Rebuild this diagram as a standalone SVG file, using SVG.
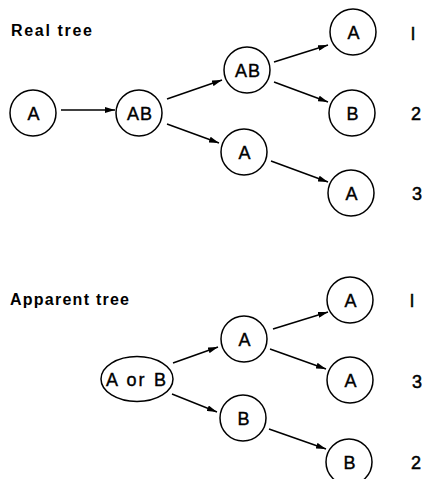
<svg xmlns="http://www.w3.org/2000/svg" width="422" height="479" viewBox="0 0 422 479">
<style>
.n{fill:#fff;stroke:#000;stroke-width:1.5}
.t{font-family:"Liberation Sans",Arial,sans-serif;font-size:18px;text-anchor:middle;fill:#000;stroke:#000;stroke-width:0.4;letter-spacing:1px}
.h{font-family:"Liberation Sans",Arial,sans-serif;font-size:16px;font-weight:bold;fill:#000}
.d{font-family:"Liberation Sans",Arial,sans-serif;font-size:18px;fill:#000;stroke:#000;stroke-width:0.5}
.c{stroke:#000;stroke-width:1.5;fill:none;marker-end:url(#ah)}
</style>
<defs>
<marker id="ah" viewBox="0 0 10 6" refX="10" refY="3" markerWidth="10" markerHeight="6" markerUnits="userSpaceOnUse" orient="auto">
<path d="M0,0 L10,3 L0,6 z" fill="#000"/>
</marker>
</defs>
<text class="h" x="11" y="36" textLength="81" lengthAdjust="spacing">Real tree</text>
<text class="h" x="10" y="305" textLength="119" lengthAdjust="spacing">Apparent tree</text>
<g id="connectors">
<line class="c" x1="61" y1="110" x2="115" y2="110"/>
<line class="c" x1="167" y1="99" x2="222" y2="80"/>
<line class="c" x1="167" y1="124" x2="219" y2="143"/>
<line class="c" x1="274" y1="62" x2="328" y2="45"/>
<line class="c" x1="274" y1="82" x2="328" y2="102"/>
<line class="c" x1="271" y1="161" x2="328" y2="182"/>
<line class="c" x1="173" y1="363" x2="218" y2="347"/>
<line class="c" x1="172" y1="394" x2="217" y2="412"/>
<line class="c" x1="273" y1="329" x2="328" y2="312"/>
<line class="c" x1="270" y1="349" x2="326" y2="369"/>
<line class="c" x1="269" y1="429" x2="326" y2="449"/>
</g>
<g id="r-root"><circle class="n" cx="33" cy="113" r="23"/><text class="t" x="34" y="119.5">A</text></g>
<g id="r-ab1"><circle class="n" cx="139" cy="113" r="23"/><text class="t" x="140" y="119.5">AB</text></g>
<g id="r-ab2"><circle class="n" cx="247" cy="70" r="23"/><text class="t" x="248" y="76.5">AB</text></g>
<g id="r-a2"><circle class="n" cx="244" cy="152" r="23"/><text class="t" x="245" y="158.5">A</text></g>
<g id="r-leaf1"><circle class="n" cx="353" cy="32" r="23"/><text class="t" x="354" y="38.5">A</text></g>
<g id="r-leaf2"><circle class="n" cx="352" cy="113" r="23"/><text class="t" x="353" y="119.5">B</text></g>
<g id="r-leaf3"><circle class="n" cx="351" cy="193" r="23"/><text class="t" x="352" y="199.5">A</text></g>
<text class="d" x="411" y="40">l</text>
<text class="d" x="411" y="120">2</text>
<text class="d" x="412" y="200">3</text>
<g id="a-root"><ellipse class="n" cx="137" cy="379" rx="36" ry="22.5"/><text class="t" x="106" y="385.5" style="text-anchor:start;letter-spacing:0" textLength="60" lengthAdjust="spacing">A or B</text></g>
<g id="a-a"><circle class="n" cx="244" cy="339" r="23"/><text class="t" x="245" y="345.5">A</text></g>
<g id="a-b"><circle class="n" cx="243" cy="418" r="23"/><text class="t" x="244" y="424.5">B</text></g>
<g id="a-leaf1"><circle class="n" cx="350" cy="300" r="23"/><text class="t" x="351" y="306.5">A</text></g>
<g id="a-leaf3"><circle class="n" cx="350" cy="380" r="23"/><text class="t" x="351" y="386.5">A</text></g>
<g id="a-leaf2"><circle class="n" cx="349" cy="462" r="23"/><text class="t" x="350" y="468.5">B</text></g>
<text class="d" x="410" y="307">l</text>
<text class="d" x="412" y="388">3</text>
<text class="d" x="411" y="469">2</text>
</svg>
